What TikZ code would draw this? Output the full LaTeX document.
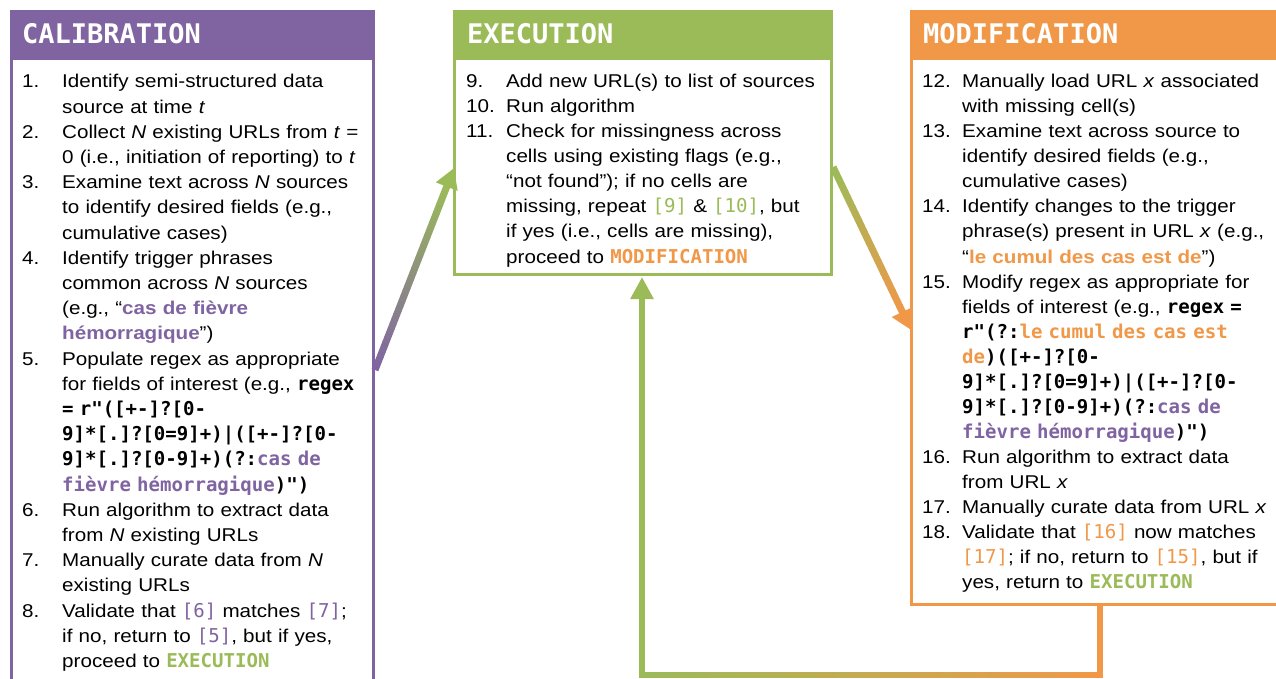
\documentclass[tikz,border=0pt]{standalone}
\usepackage{fontspec}
\setmainfont[FakeStretch=1.115]{Liberation Sans}
\newfontfamily\mono[Scale=1.03]{DejaVu Sans Mono}
\newfontfamily\hdrmono{DejaVu Sans Mono}
\usetikzlibrary{calc,arrows.meta}
\definecolor{calcol}{HTML}{8064A2}
\definecolor{execol}{HTML}{9BBB59}
\definecolor{modcol}{HTML}{F09848}
\newcommand\itm[2]{\par\noindent\hangindent=40pt\hangafter=1\strut\makebox[40pt][l]{#1}#2\par}
\newcommand\mb[1]{{\mono\bfseries #1}}
\newcommand\mr[2]{{\mono\color{#1}#2}}
\newcommand\mbc[2]{{\mono\bfseries\color{#1}#2}}
\newcommand\sbc[2]{{\bfseries\color{#1}#2}}
\newcommand\gradline[5]{%
  \foreach \i in {0,...,39}{%
    \pgfmathsetmacro\ta{\i/40}%
    \pgfmathsetmacro\tb{min(1,(\i+1.08)/40)}%
    \pgfmathtruncatemacro\pc{100*\i/39}%
    \draw[line width=#5, color=#4!\pc!#3] ($(#1)!\ta!(#2)$) -- ($(#1)!\tb!(#2)$);
  }}
\begin{document}
\begin{tikzpicture}[x=1pt,y=1pt,
  box/.style={draw=#1, line width=3pt, anchor=north west, inner sep=0},
  hdr/.style={anchor=base west, text=white, font=\hdrmono\bfseries\fontsize{27}{30}\selectfont, inner sep=0},
  body/.style={anchor=north west, inner sep=0, text width=440pt, font=\fontsize{18.5}{#1}\selectfont},
  body/.default=25.2]
\useasboundingbox (0,-678) rectangle (1276,0);
\clip (0,-678) rectangle (1276,0);
\fill[white] (0,-678) rectangle (1276,0);

% boxes
\node[box=calcol, minimum width=362pt, minimum height=700pt] (cal) at (10,-10) {};
\node[box=execol, minimum width=377pt, minimum height=263pt] (exe) at (453,-10) {};
\node[box=modcol, minimum width=420pt, minimum height=593pt] (mod) at (910,-10) {};
\fill[calcol] (cal.north west) rectangle ($(cal.north east)+(0,-50)$);
\fill[execol] (exe.north west) rectangle ($(exe.north east)+(0,-50)$);
\fill[modcol] (mod.north west) rectangle ($(mod.north east)+(0,-50)$);

\node[hdr] (calh) at (22,-43) {CALIBRATION};
\node[hdr] (exeh) at (467,-43) {EXECUTION};
\node[hdr] (modh) at (923,-43) {MODIFICATION};

% calibration text
\node[body] (calt) at (22,-62.4) {%
\itm{1.}{Identify semi-structured data\newline source at time \textit{t}}%
\itm{2.}{Collect \textit{N} existing URLs from \textit{t} =\newline 0 (i.e., initiation of reporting) to \textit{t}}%
\itm{3.}{Examine text across \textit{N} sources\newline to identify desired fields (e.g.,\newline cumulative cases)}%
\itm{4.}{Identify trigger phrases\newline common across \textit{N} sources\newline (e.g., “\sbc{calcol}{cas de fièvre}\newline \sbc{calcol}{hémorragique}”)}%
\itm{5.}{Populate regex as appropriate\newline for fields of interest (e.g., \mb{regex}\newline \mb{= r"([+-]?[0-}\newline \mb{9]*[.]?[0=9]+)|([+-]?[0-}\newline \mb{9]*[.]?[0-9]+)(?:{\color{calcol}cas de}}\newline \mb{{\color{calcol}fièvre hémorragique})")}}%
\itm{6.}{Run algorithm to extract data\newline from \textit{N} existing URLs}%
\itm{7.}{Manually curate data from \textit{N}\newline existing URLs}%
\itm{8.}{Validate that \mr{calcol}{[6]} matches \mr{calcol}{[7]};\newline if no, return to \mr{calcol}{[5]}, but if yes,\newline proceed to \mbc{execol}{EXECUTION}}%
};

% execution text
\node[body=25.05] (exet) at (466,-62.4) {%
\itm{9.}{Add new URL(s) to list of sources}%
\itm{10.}{Run algorithm}%
\itm{11.}{Check for missingness across\newline cells using existing flags (e.g.,\newline “not found”); if no cells are\newline missing, repeat \mr{execol}{[9]} \& \mr{execol}{[10]}, but\newline if yes (i.e., cells are missing),\newline proceed to \mbc{modcol}{MODIFICATION}}%
};

% modification text
\node[body=25.05] (modt) at (922,-62.4) {%
\itm{12.}{Manually load URL \textit{x} associated\newline with missing cell(s)}%
\itm{13.}{Examine text across source to\newline identify desired fields (e.g.,\newline cumulative cases)}%
\itm{14.}{Identify changes to the trigger\newline phrase(s) present in URL \textit{x} (e.g.,\newline “\sbc{modcol}{le cumul des cas est de}”)}%
\itm{15.}{Modify regex as appropriate for\newline fields of interest (e.g., \mb{regex =}\newline \mb{r"(?:{\color{modcol}le cumul des cas est}}\newline \mb{{\color{modcol}de})([+-]?[0-}\newline \mb{9]*[.]?[0=9]+)|([+-]?[0-}\newline \mb{9]*[.]?[0-9]+)(?:{\color{calcol}cas de}}\newline \mb{{\color{calcol}fièvre hémorragique})")}}%
\itm{16.}{Run algorithm to extract data\newline from URL \textit{x}}%
\itm{17.}{Manually curate data from URL \textit{x}}%
\itm{18.}{Validate that \mr{modcol}{[16]} now matches\newline \mr{modcol}{[17]}; if no, return to \mr{modcol}{[15]}, but if\newline yes, return to \mbc{execol}{EXECUTION}}%
};

% connector coordinates
\coordinate (a1s) at ($(cal.north east)+(0,-360)$);
\coordinate (a1e) at ($(exe.north west)+(1,-158)$);
\coordinate (a2s) at ($(exe.north east)+(0,-157)$);
\coordinate (a2e) at ($(mod.north west)+(1,-320)$);
\coordinate (l0) at ($(mod.south west)+(190,0)$);
\coordinate (l1) at ($(l0)+(0,-69)$);
\coordinate (l3) at ($(exe.south west)+(189,-1)$);
\coordinate (l2) at (l3 |- l1);

% arrow calibration -> execution
\gradline{a1s}{$(a1e)!19pt!(a1s)$}{calcol}{execol}{7pt}
\draw[line width=7pt, execol, -{Triangle[length=20pt,width=22pt]}] ($(a1e)!21pt!(a1s)$) -- (a1e);
% arrow execution -> modification
\gradline{a2s}{$(a2e)!19pt!(a2s)$}{execol}{modcol}{7pt}
\draw[line width=7pt, modcol, -{Triangle[length=20pt,width=22pt]}] ($(a2e)!21pt!(a2s)$) -- (a2e);
% loop modification -> execution
\draw[line width=6pt, modcol] (l0) -- ($(l1)+(0,-3)$);
\gradline{$(l1)+(3,0)$}{$(l2)+(-3,0)$}{modcol}{execol}{6pt}
\draw[line width=6pt, execol, -{Triangle[length=22pt,width=22pt]}] (l2) -- (l3);
\end{tikzpicture}
\end{document}
